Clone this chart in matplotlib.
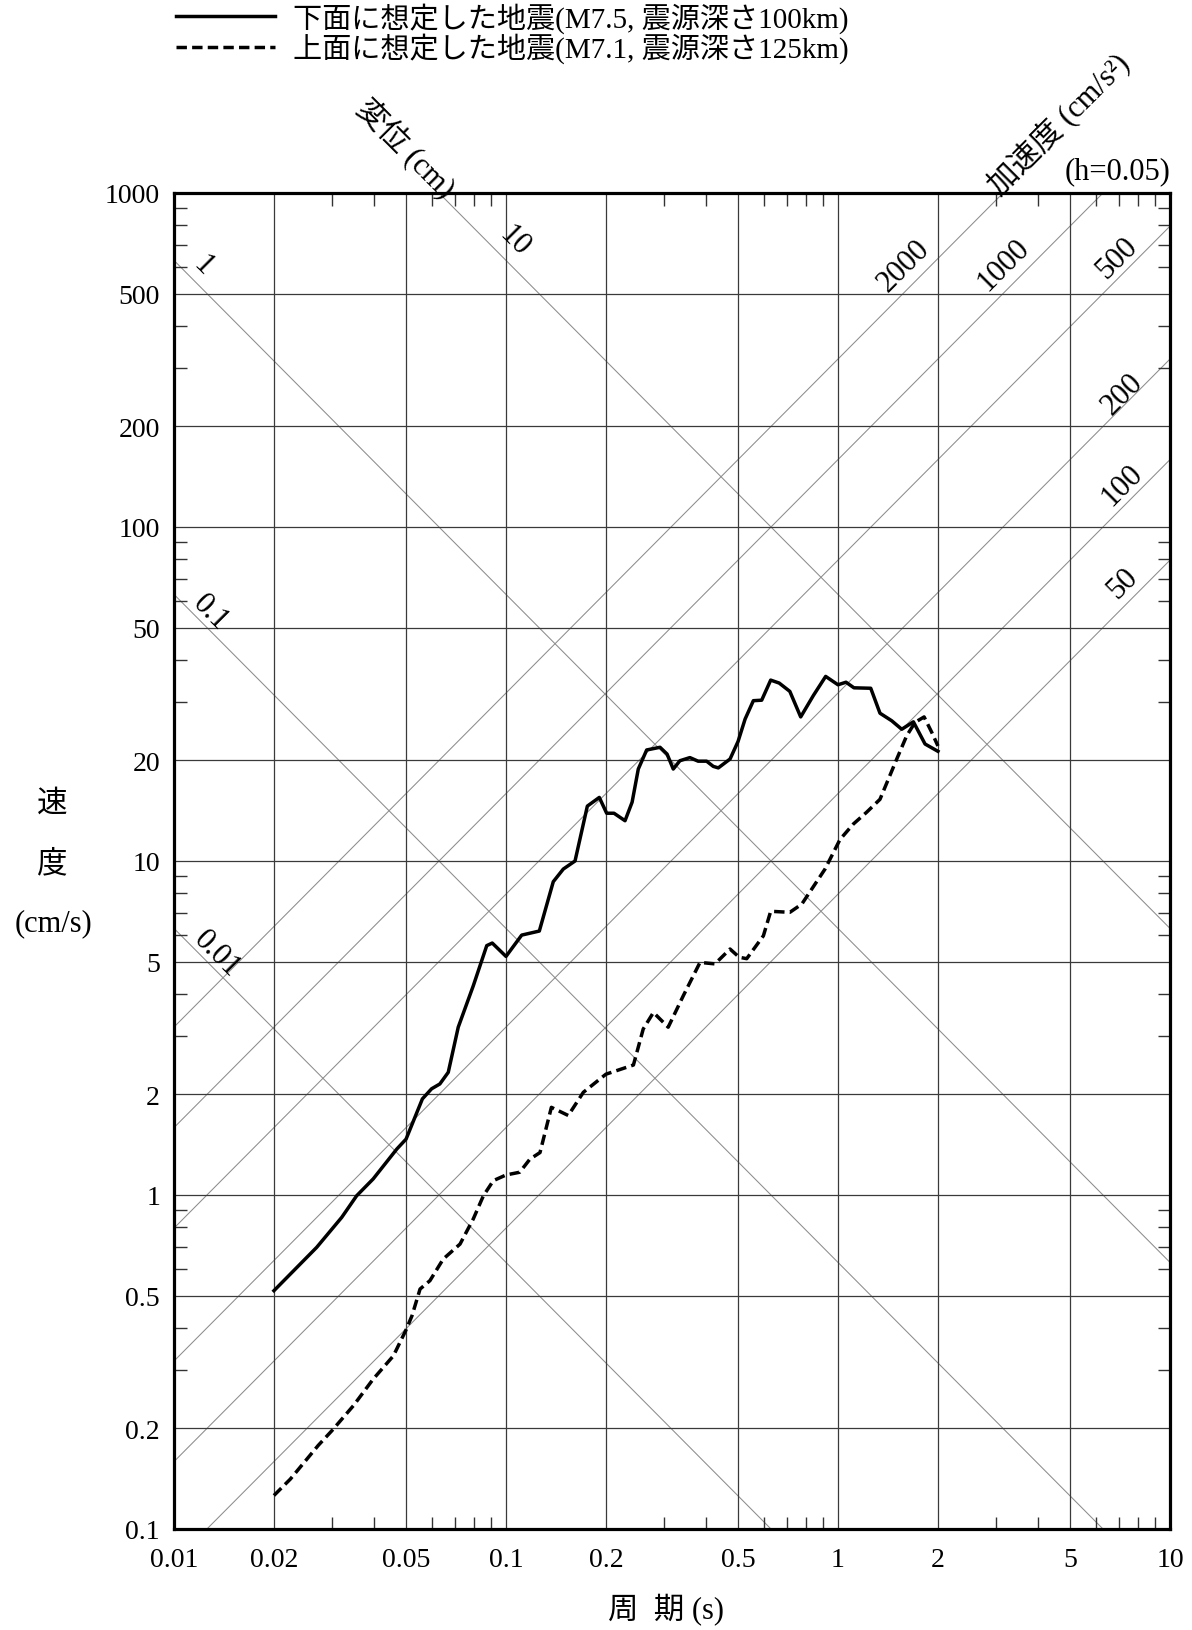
import numpy as np
import matplotlib
matplotlib.use("Agg")
import matplotlib.pyplot as plt
from matplotlib.ticker import FixedLocator, NullFormatter

plt.rcParams['font.family'] = ['Liberation Serif', 'Noto Sans CJK JP']

# Pseudo-velocity response spectra (h=0.05)
lower_T = [0.02, 0.0269, 0.032, 0.0355, 0.0398, 0.0469, 0.05, 0.056, 0.0597, 0.0632,
           0.067, 0.0718, 0.0797, 0.0875, 0.0909, 0.1, 0.1115, 0.126, 0.1388, 0.1488,
           0.1614, 0.1758, 0.191, 0.201, 0.2115, 0.2283, 0.2398, 0.2503, 0.2653, 0.291,
           0.3056, 0.319, 0.334, 0.358, 0.379, 0.402, 0.421, 0.436, 0.473, 0.5,
           0.525, 0.556, 0.589, 0.627, 0.665, 0.716, 0.772, 0.843, 0.918, 1.0,
           1.057, 1.117, 1.255, 1.338, 1.451, 1.556, 1.687, 1.829, 2.0]
lower_V = [0.517, 0.697, 0.857, 0.995, 1.117, 1.373, 1.47, 1.94, 2.08, 2.15,
           2.33, 3.18, 4.23, 5.58, 5.68, 5.18, 6.0, 6.17, 8.67, 9.46,
           10.0, 14.6, 15.5, 13.9, 13.9, 13.2, 15.0, 18.85, 21.5, 21.9,
           20.9, 18.85, 19.96, 20.4, 19.9, 19.9, 19.2, 19.0, 20.2, 22.8,
           26.6, 30.2, 30.3, 34.8, 34.1, 32.2, 27.0, 31.3, 35.7, 33.7,
           34.3, 33.0, 32.9, 27.7, 26.3, 24.8, 26.1, 22.4, 21.3]

upper_T = [0.02, 0.0224, 0.0272, 0.0299, 0.0347, 0.0398, 0.0458, 0.0499, 0.0521, 0.0551,
           0.059, 0.0647, 0.0727, 0.0797, 0.0855, 0.0916, 0.1, 0.11, 0.118, 0.1266,
           0.137, 0.154, 0.171, 0.2, 0.242, 0.259, 0.278, 0.308, 0.342, 0.384,
           0.426, 0.473, 0.504, 0.531, 0.596, 0.627, 0.716, 0.778, 0.914, 1.014,
           1.112, 1.22, 1.338, 1.503, 1.61, 1.706, 1.817, 1.915, 2.0]
upper_V = [0.126, 0.141, 0.178, 0.197, 0.234, 0.281, 0.330, 0.393, 0.435, 0.523,
           0.554, 0.643, 0.713, 0.848, 0.995, 1.104, 1.148, 1.17, 1.28, 1.34,
           1.83, 1.73, 2.03, 2.30, 2.45, 3.14, 3.52, 3.18, 3.95, 4.97,
           4.92, 5.45, 5.15, 5.1, 5.97, 7.07, 7.02, 7.43, 9.46, 11.6,
           12.9, 14.0, 15.3, 20.2, 23.7, 26.0, 27.0, 24.3, 22.1]

lower_label = "下面に想定した地震(M7.5, 震源深さ100km)"
upper_label = "上面に想定した地震(M7.1, 震源深さ125km)"

# tripartite guide lines
disp_values = [0.01, 0.1, 1, 10]              # cm
acc_values = [50, 100, 200, 500, 1000, 2000]  # cm/s^2

x_ticks = [0.01, 0.02, 0.05, 0.1, 0.2, 0.5, 1, 2, 5, 10]
x_ticklabels = ["0.01", "0.02", "0.05", "0.1", "0.2", "0.5", "1", "2", "5", "10"]
y_ticks = [0.1, 0.2, 0.5, 1, 2, 5, 10, 20, 50, 100, 200, 500, 1000]
y_ticklabels = ["0.1", "0.2", "0.5", "1", "2", "5", "10", "20", "50", "100", "200", "500", "1000"]

# label anchor points along guide lines (period, velocity)
disp_label_pos = {0.01: (0.0135, 5.3), 0.1: (0.0129, 55.5), 1: (0.01225, 610), 10: (0.106, 720)}
acc_label_pos = {2000: (1.574, 606), 1000: (3.148, 612), 500: (6.9, 640),
                 200: (7.2, 250), 100: (7.2, 134), 50: (7.2, 68)}

W, H = 1192, 1631
fig = plt.figure(figsize=(W / 100, H / 100), dpi=100)
ax = fig.add_axes([174 / W, 1 - 1530 / H, (1170 - 174) / W, (1530 - 194) / H])
ax.set_xscale('log')
ax.set_yscale('log')
ax.set_xlim(0.01, 10)
ax.set_ylim(0.1, 1000)

T_line = np.array([0.001, 100.0])
for d in disp_values:
    ax.plot(T_line, 2 * np.pi * d / T_line, color='#8c8c8c', lw=0.75, zorder=1)
for a in acc_values:
    ax.plot(T_line, a * T_line / (2 * np.pi), color='#8c8c8c', lw=0.75, zorder=1)

for d, (t, v) in disp_label_pos.items():
    ax.text(t, v, f"{d:g}", rotation=-45, ha='center', va='center',
            fontsize=22, zorder=3)
for a, (t, v) in acc_label_pos.items():
    ax.text(t, v, f"{a:g}", rotation=45, ha='center', va='center',
            fontsize=22, zorder=3)

ax.plot(lower_T, lower_V, color='black', lw=2.5, label=lower_label, zorder=4)
ax.plot(upper_T, upper_V, color='black', lw=2.5, linestyle=(0, (3.0, 1.5)),
        label=upper_label, zorder=4)

ax.xaxis.set_major_locator(FixedLocator(x_ticks))
ax.set_xticklabels(x_ticklabels)
ax.yaxis.set_major_locator(FixedLocator(y_ticks))
ax.set_yticklabels(y_ticklabels)
minor = [m * 10.0 ** e for e in range(-2, 3) for m in (3, 4, 6, 7, 8, 9)]
ax.xaxis.set_minor_locator(FixedLocator([v for v in minor if 0.01 < v < 10]))
ax.yaxis.set_minor_locator(FixedLocator([v for v in minor if 0.1 < v < 1000]))
ax.xaxis.set_minor_formatter(NullFormatter())
ax.yaxis.set_minor_formatter(NullFormatter())

ax.tick_params(which='major', length=0, labelsize=20)
ax.tick_params(axis='x', which='major', pad=13)
ax.tick_params(axis='y', which='major', pad=10)
ax.tick_params(which='minor', direction='in', length=9, width=1.0,
               top=True, right=True, color='#333333')
ax.grid(True, which='major', color='#3a3a3a', lw=0.9, zorder=0)
for s in ax.spines.values():
    s.set_linewidth(2.3)

# axis titles
fig.text(52 / W, 1 - 804 / H, "速", fontsize=22, ha='center', va='center')
fig.text(52 / W, 1 - 865 / H, "度", fontsize=22, ha='center', va='center')
fig.text(53 / W, 1 - 924 / H, "(cm/s)", fontsize=22, ha='center', va='center')
fig.text(666 / W, 1 - 1610 / H, "周  期 (s)", fontsize=22, ha='center', va='center')
fig.text(406 / W, 1 - 148 / H, "変位 (cm)", fontsize=22, rotation=-45,
         ha='center', va='center')
fig.text(1058 / W, 1 - 124 / H, "加速度 (cm/s²)", fontsize=22, rotation=45,
         ha='center', va='center')
fig.text(1170 / W, 1 - 172 / H, "(h=0.05)", fontsize=22, ha='right', va='center')

fig.legend(loc='upper left', bbox_to_anchor=(176 / W, 1 - 3 / H), frameon=False,
           fontsize=21, handlelength=3.4, handletextpad=0.6, labelspacing=0.0,
           borderpad=0, borderaxespad=0)

fig.savefig("out.png", dpi=100)
